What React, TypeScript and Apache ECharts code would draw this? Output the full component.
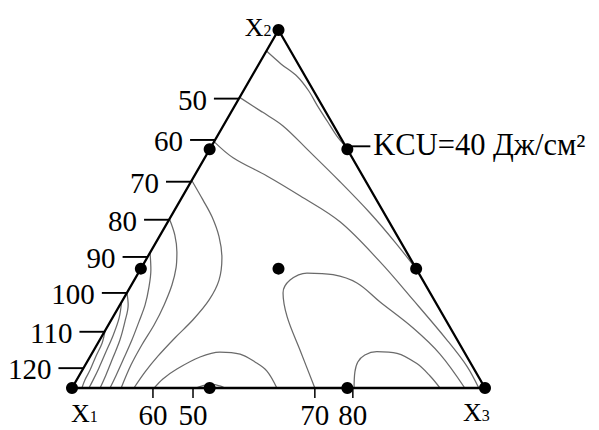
import React, { useEffect, useRef } from 'react';
import * as echarts from 'echarts';

const FONT = '"Liberation Serif", "Times New Roman", Times, serif';

// Triangle (side = 100): X1 bottom-left, X2 top, X3 bottom-right
const vertexX = [0, 50, 100];
const vertexY = [0, 86.6, 0];
const vertexSubscripts = ['1', '2', '3'];

// Design points (vertices, edge points at 1/3 and 2/3, centroid)
const pointsX = [0, 50, 100, 33.33, 16.67, 66.67, 83.33, 33.33, 66.67, 50];
const pointsY = [0, 86.6, 0, 57.74, 28.87, 57.74, 28.87, 0, 0, 28.87];

// Iso-lines of KCU, J/cm2 (x, y in triangle coordinates)
const contour40 = [[47.1, 81.5], [50.6, 78.4], [54.6, 75.3], [57.3, 71.9], [59.4, 68.3], [61.9, 64.4], [64.1, 61.0], [66.1, 58.6]];
const contour50 = [[40.6, 70.3], [46.0, 66.8], [51.1, 63.4], [57.1, 57.6], [64.9, 49.9], [72.1, 42.4], [78.2, 35.3], [83.6, 28.4]];
const contour60 = [[34.4, 59.6], [39.0, 55.7], [47.2, 51.3], [55.2, 46.5], [64.9, 40.2], [74.6, 30.5], [82.6, 21.3], [90.8, 11.6], [95.6, 5.3], [98.5, 0]];
const contour70 = [[58.8, 0], [55.2, 9.2], [52.1, 17.2], [51.1, 23.0], [52.8, 26.1], [56.9, 27.8], [63.2, 27.4], [69.0, 25.4], [74.6, 20.8], [82.6, 14.5], [89.1, 8.2], [95.1, 0]];
const contour80 = [[68.3, 0], [68.5, 3.9], [69.2, 6.3], [70.9, 8.0], [73.8, 8.8], [78.7, 8.4], [83.5, 5.9], [86.7, 2.9], [89.1, 0]];
const contour60Bottom = [[19.9, 0], [22.0, 2.2], [25.4, 4.6], [31.0, 7.5], [35.8, 8.7], [40.7, 8.2], [44.3, 6.3], [47.2, 4.1], [49.6, 0]];
const contour50Bottom = [[30.0, 0], [31.7, 0.6], [33.9, 0.85], [35.8, 0.5], [37.0, 0]];
const contour70Left = [[29.0, 50.2], [31.7, 45.5], [33.9, 41.4], [35.6, 36.6], [36.3, 31.5], [35.6, 26.1], [33.2, 21.3], [29.3, 16.5], [24.9, 12.1], [20.8, 7.7], [17.7, 3.9], [15.0, 0]];
const contour80Left = [[23.6, 40.9], [24.9, 37.0], [25.4, 32.9], [25.2, 29.1], [24.2, 24.9], [22.3, 20.1], [19.9, 15.3], [16.9, 10.4], [14.3, 5.6], [11.9, 0]];
const contour90Left = [[18.9, 32.7], [19.1, 28.6], [18.6, 24.2], [17.7, 20.1], [16.2, 16.0], [14.5, 11.6], [12.6, 7.3], [10.7, 3.1], [9.2, 0]];
const contour100Left = [[13.3, 23.0], [13.6, 20.1], [12.8, 16.0], [11.6, 11.6], [9.9, 7.3], [8.2, 3.1], [6.8, 0]];
const contour105Left = [[12.0, 20.8], [11.4, 16.9], [9.9, 12.6], [8.2, 8.7], [6.5, 4.8], [5.1, 1.9], [4.1, 0]];
const contour110Left = [[8.0, 13.8], [7.3, 10.9], [5.8, 7.7], [4.4, 4.4], [3.1, 1.9], [2.4, 0]];

// Tick labels along the X1–X2 edge (y position of each level on the edge)
const leftTickLabels = ['50', '60', '70', '80', '90', '100', '110', '120'];
const leftTickY = [70.0, 60.0, 49.9, 40.7, 31.7, 23.0, 13.6, 4.8];

// Tick labels along the X1–X3 edge
const bottomTickLabels = ['60', '50', '70', '80'];
const bottomTickX = [19.6, 29.3, 58.8, 68.0];

// Level annotation (at the edge point where KCU = 40 meets X2–X3)
const levelLabel = 'KCU=40 Дж/см²';
const levelLabelAt = [66.67, 57.74];

export default function App() {
  const ref = useRef<HTMLDivElement>(null);

  useEffect(() => {
    if (!ref.current) return;
    const chart = echarts.init(ref.current, null, { renderer: 'svg' });

    const contours = [
      contour40, contour50, contour60, contour70, contour80,
      contour60Bottom, contour50Bottom,
      contour70Left, contour80Left, contour90Left, contour100Left, contour105Left, contour110Left,
    ];

    const series: any[] = contours.map((data) => ({
      type: 'line',
      data,
      smooth: 0.35,
      symbol: 'none',
      clip: false,
      silent: true,
      lineStyle: { color: '#6a6a6a', width: 1.25 },
      z: 2,
    }));

    series.push({
      type: 'line',
      data: [0, 1, 2, 0].map((i) => [vertexX[i], vertexY[i]]),
      symbol: 'none',
      clip: false,
      silent: true,
      lineStyle: { color: '#000', width: 2.3 },
      z: 3,
    });

    series.push({
      type: 'scatter',
      data: pointsX.map((x, i) => [x, pointsY[i]]),
      symbol: 'circle',
      symbolSize: 12,
      itemStyle: { color: '#000', opacity: 1 },
      silent: true,
      z: 4,
    });

    const textStyle = (text: string, align: string, extra: any = {}) => ({
      text,
      fill: '#000',
      fontSize: 29,
      fontFamily: FONT,
      align,
      textAlign: align,
      verticalAlign: 'middle',
      textVerticalAlign: 'middle',
      ...extra,
    });

    // left ticks
    series.push({
      type: 'custom',
      z: 5,
      silent: true,
      data: leftTickY.map((y) => [y / Math.sqrt(3), y]),
      renderItem: (params: any, api: any) => {
        const p = api.coord([api.value(0), api.value(1)]);
        return {
          type: 'group',
          children: [
            { type: 'line', shape: { x1: p[0] - 25, y1: p[1], x2: p[0], y2: p[1] }, style: { stroke: '#000', lineWidth: 1.9 } },
            { type: 'text', x: p[0] - 32, y: p[1] + 1, style: textStyle(leftTickLabels[params.dataIndex], 'right') },
          ],
        };
      },
    });

    // bottom ticks
    series.push({
      type: 'custom',
      z: 5,
      silent: true,
      data: bottomTickX.map((x) => [x, 0]),
      renderItem: (params: any, api: any) => {
        const p = api.coord([api.value(0), api.value(1)]);
        return {
          type: 'group',
          children: [
            { type: 'line', shape: { x1: p[0], y1: p[1], x2: p[0], y2: p[1] + 10 }, style: { stroke: '#000', lineWidth: 1.5 } },
            { type: 'text', x: p[0], y: p[1] + 27, style: textStyle(bottomTickLabels[params.dataIndex], 'center', { lineHeight: 24 }) },
          ],
        };
      },
    });

    // level annotation
    series.push({
      type: 'custom',
      z: 5,
      silent: true,
      data: [levelLabelAt],
      renderItem: (params: any, api: any) => {
        const p = api.coord([api.value(0), api.value(1)]);
        return {
          type: 'group',
          children: [
            { type: 'line', shape: { x1: p[0], y1: p[1] - 3, x2: p[0] + 23, y2: p[1] - 3 }, style: { stroke: '#000', lineWidth: 1.9 } },
            { type: 'text', x: p[0] + 26, y: p[1] - 4, style: textStyle(levelLabel, 'left', { fontSize: 30.5 }) },
          ],
        };
      },
    });

    // vertex labels X1, X2, X3
    series.push({
      type: 'custom',
      z: 5,
      silent: true,
      data: vertexX.map((x, i) => [x, vertexY[i]]),
      renderItem: (params: any, api: any) => {
        const p = api.coord([api.value(0), api.value(1)]);
        const i = params.dataIndex;
        let x = p[0];
        let y = p[1];
        let align = 'left';
        if (i === 0) { x = p[0] - 1; y = p[1] + 25; }
        else if (i === 1) { x = p[0] - 7; y = p[1] - 3; align = 'right'; }
        else { x = p[0] - 22; y = p[1] + 24; }
        return {
          type: 'text',
          x,
          y,
          style: {
            text: `{a|X}{b|${vertexSubscripts[i]}}`,
            fill: '#000',
            fontSize: 26,
            fontFamily: FONT,
            align,
            textAlign: align,
            verticalAlign: 'middle',
            textVerticalAlign: 'middle',
            rich: {
              a: { fontSize: 26, fontFamily: FONT, lineHeight: 24, fill: '#000' },
              b: { fontSize: 16, fontFamily: FONT, height: 17, verticalAlign: 'bottom', fill: '#000' },
            },
          },
        };
      },
    });

    chart.setOption({
      animation: false,
      backgroundColor: '#fff',
      grid: { left: 72, top: 30, width: 413, height: 358 },
      xAxis: { type: 'value', min: 0, max: 100, show: false },
      yAxis: { type: 'value', min: 0, max: 86.6, show: false },
      series,
    });

    return () => chart.dispose();
  }, []);

  return (
    <div
      ref={ref}
      style={{ position: 'fixed', left: 0, top: 0, width: 599, height: 430, background: '#fff' }}
    />
  );
}
